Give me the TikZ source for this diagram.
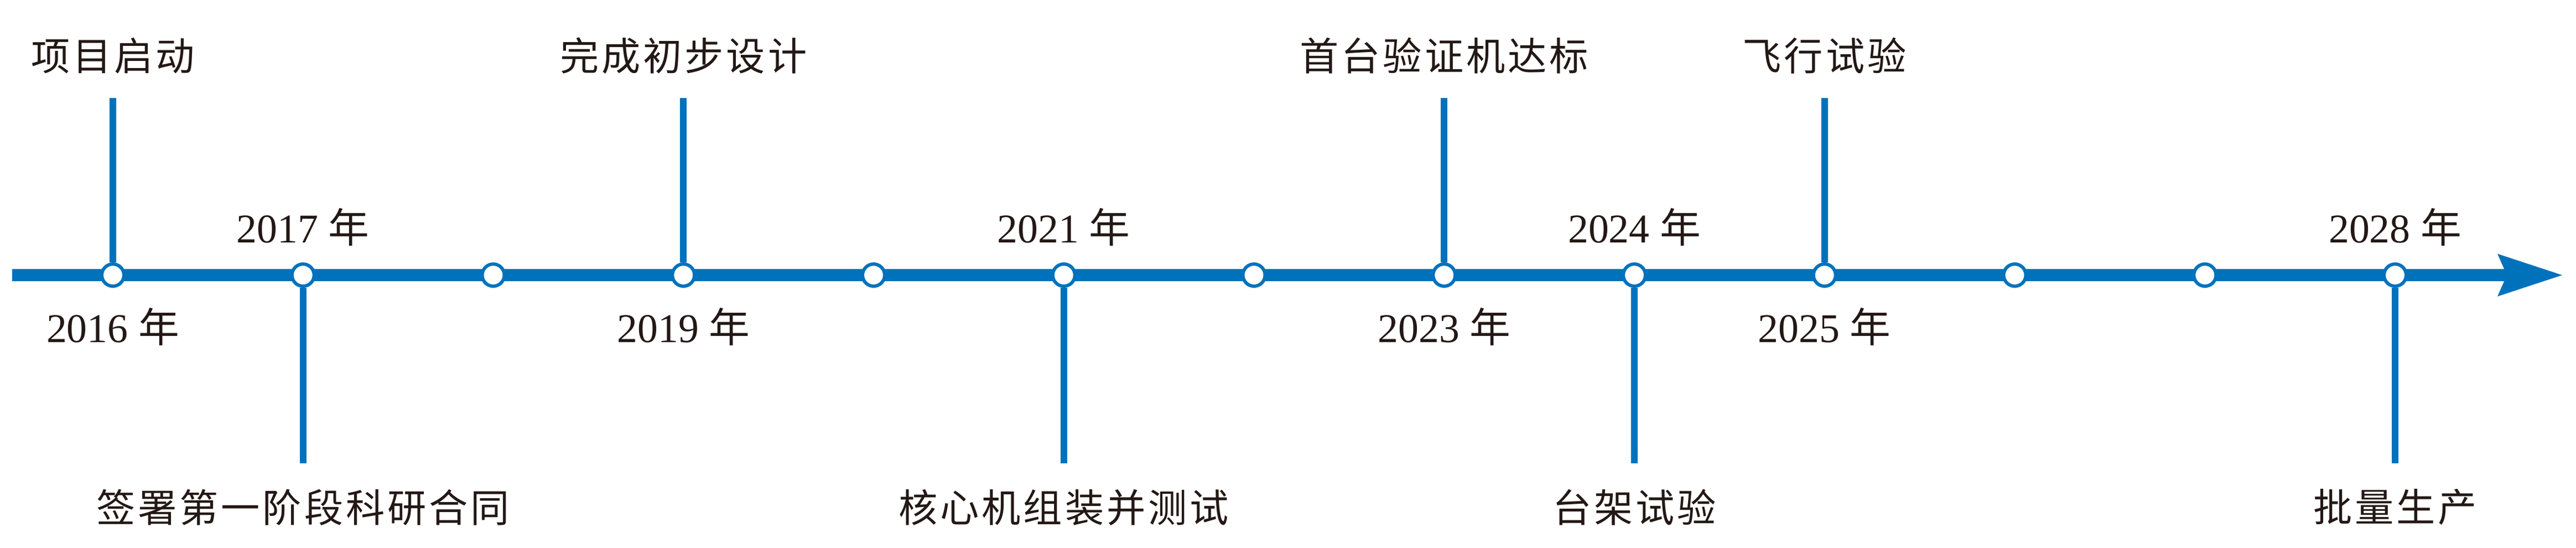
\documentclass[tikz,border=0pt]{standalone}
\usepackage{fontspec}
\setmainfont{Liberation Serif}
\newfontfamily\cjk[LetterSpace=7]{Noto Sans CJK SC}
\usetikzlibrary{arrows.meta, positioning}
\definecolor{lineblue}{RGB}{0,114,188}
\definecolor{inkdark}{RGB}{35,24,21}

\tikzset{
    axisline/.style={lineblue, line width=2.2mm,
        -{Stealth[length=11.7mm, width=7.7mm, inset=1.7mm, line width=0pt]}},
    stem/.style={lineblue, line width=1.2mm},
    dot/.style={circle, draw=lineblue, fill=white, line width=0.6mm,
        minimum size=4mm, inner sep=0pt},
    event/.style={inkdark, inner sep=0pt, font=\fontsize{20}{24}\selectfont\cjk},
    year/.style={inkdark, inner sep=0pt, font=\fontsize{21}{25}\selectfont},
}

\begin{document}
\begin{tikzpicture}
    \useasboundingbox (-2.04,-4.92) rectangle (44.52,4.97);
    % time axis
    \coordinate (start) at (-1.82,0);
    \coordinate (tip) at (44.27,0);
    \draw[axisline] (start) -- (tip);
    \foreach \i in {0,...,12}
        \node[dot] (dot\i) at (3.4375*\i,0) {};
    % stems
    \foreach \i in {0,3,7,9} {
        \coordinate (up\i) at (3.4375*\i,3.2);
        \draw[stem] (up\i) -- (dot\i);
    }
    \foreach \i in {1,5,8,12} {
        \coordinate (down\i) at (3.4375*\i,-3.4);
        \draw[stem] (dot\i) -- (down\i);
    }
    % events
    \node[event, above=4.3mm of up0] (launch) {项目启动};
    \node[event, below=4.6mm of down1] (contract) {签署第一阶段科研合同};
    \node[event, above=4.3mm of up3] (design) {完成初步设计};
    \node[event, below=4.6mm of down5] (core) {核心机组装并测试};
    \node[event, above=4.3mm of up7] (demo) {首台验证机达标};
    \node[event, below=4.6mm of down8] (bench) {台架试验};
    \node[event, above=4.3mm of up9] (flight) {飞行试验};
    \node[event, below=4.6mm of down12] (mass) {批量生产};
    % years
    \node[year, below=3.5mm of dot0] (y2016) {2016 {\cjk 年}};
    \node[year, above=2.9mm of dot1] (y2017) {2017 {\cjk 年}};
    \node[year, below=3.5mm of dot3] (y2019) {2019 {\cjk 年}};
    \node[year, above=2.9mm of dot5] (y2021) {2021 {\cjk 年}};
    \node[year, below=3.5mm of dot7] (y2023) {2023 {\cjk 年}};
    \node[year, above=2.9mm of dot8] (y2024) {2024 {\cjk 年}};
    \node[year, below=3.5mm of dot9] (y2025) {2025 {\cjk 年}};
    \node[year, above=2.9mm of dot12] (y2028) {2028 {\cjk 年}};
\end{tikzpicture}
\end{document}
